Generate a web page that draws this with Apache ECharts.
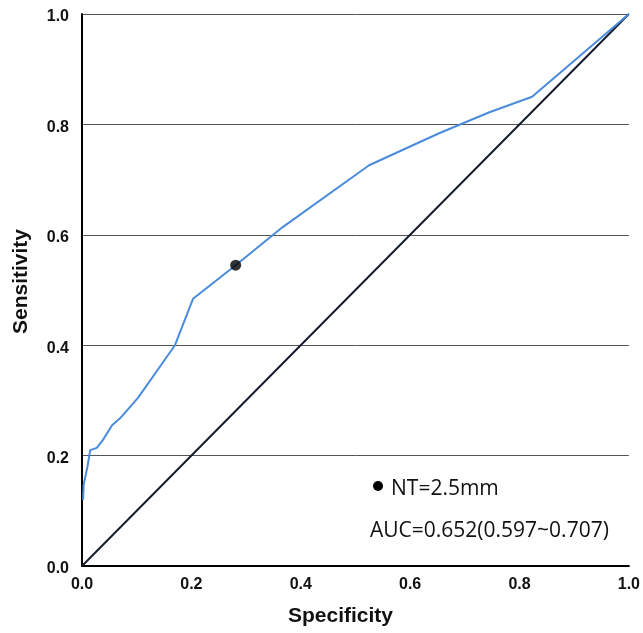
<!DOCTYPE html>
<html><head><meta charset="utf-8">
<script src="https://cdn.jsdelivr.net/npm/echarts@6/dist/echarts.min.js"></script>
<style>html,body{margin:0;padding:0;background:#fff}#c{width:643px;height:633px}</style>
</head><body><div id="c"></div>
<script>
// 1 - specificity (x) and sensitivity (y) of the ROC curve
const rocX = [0.002, 0.003, 0.006, 0.010, 0.015, 0.027, 0.038, 0.055, 0.070, 0.102, 0.170, 0.203, 0.281, 0.367, 0.525, 0.653, 0.745, 0.823, 1.0];
const rocY = [0.120, 0.147, 0.150, 0.180, 0.210, 0.214, 0.228, 0.255, 0.268, 0.304, 0.400, 0.484, 0.545, 0.614, 0.726, 0.784, 0.822, 0.850, 1.0];
const cutPoint = [0.281, 0.545];
const refLine = [[0, 0], [1, 1]];
const legendLabel = 'NT=2.5mm';
const aucLabel = 'AUC=0.652(0.597~0.707)';

const chart = echarts.init(document.getElementById('c'));
chart.setOption({
  animation: false,
  grid: {left: 82, right: 13, top: 14, bottom: 67},
  xAxis: {
    type: 'value', min: 0, max: 1, interval: 0.2,
    axisLine: {show: true, lineStyle: {color: '#000', width: 2}},
    axisTick: {show: false},
    splitLine: {show: false},
    axisLabel: {formatter: v => v.toFixed(1), color: '#111', fontSize: 16, fontWeight: 'bold', fontFamily: 'Liberation Sans', margin: 11}
  },
  yAxis: {
    type: 'value', min: 0, max: 1, interval: 0.2,
    axisLine: {show: true, lineStyle: {color: '#000', width: 2}},
    axisTick: {show: false},
    splitLine: {show: true, lineStyle: {color: '#555', width: 1}},
    axisLabel: {
      formatter: v => '{a|' + v.toFixed(1) + '}', margin: 13,
      rich: {a: {color: '#111', fontSize: 16, fontWeight: 'bold', fontFamily: 'Liberation Sans', padding: [6, 0, 0, 0]}}
    }
  },
  graphic: [
    {type: 'text', left: 288, top: 606, style: {text: 'Specificity', font: 'bold 21px "Liberation Sans"', fill: '#111'}},
    {type: 'text', x: 11, y: 334, rotation: Math.PI / 2, style: {text: 'Sensitivity', font: 'bold 21px "Liberation Sans"', fill: '#111'}},
    {type: 'circle', shape: {cx: 378, cy: 486, r: 5}, style: {fill: '#000'}},
    {type: 'text', left: 391, top: 479, style: {text: legendLabel, font: '21px "Open Sans"', fill: '#111'}},
    {type: 'text', left: 370, top: 521, style: {text: aucLabel, font: '21px "Open Sans"', fill: '#111'}}
  ],
  series: [
    {type: 'line', data: refLine, symbol: 'none', lineStyle: {color: '#141c2c', width: 2}, z: 2},
    {type: 'line', data: rocX.map((x, i) => [x, rocY[i]]), symbol: 'none', lineStyle: {color: '#4a8cdc', width: 2}, z: 3},
    {type: 'scatter', data: [cutPoint], symbolSize: 11, itemStyle: {color: '#000'}, z: 4}
  ]
});
</script></body></html>
